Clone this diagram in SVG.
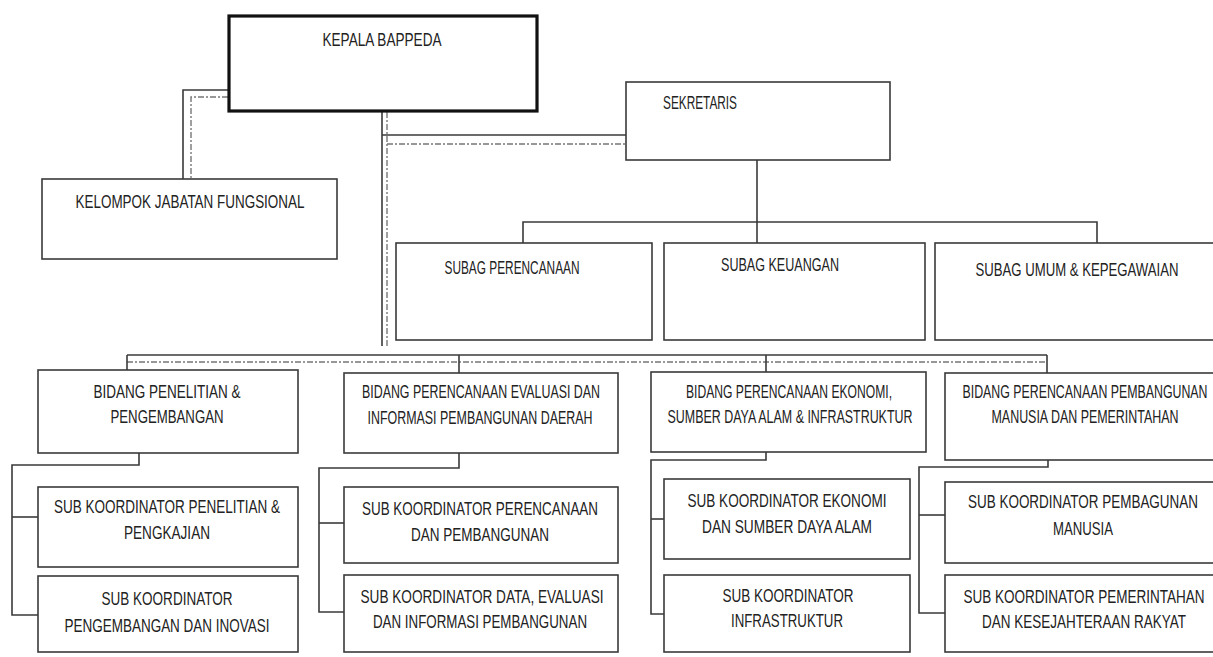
<svg xmlns="http://www.w3.org/2000/svg" width="1213" height="657" viewBox="0 0 1213 657">
<style>
.bx{fill:#fff;stroke:#3a3a3a;stroke-width:1.6}
.bxk{fill:#fff;stroke:#111;stroke-width:3.2}
.t{font-family:"Liberation Sans",Arial,sans-serif;font-size:17.5px;fill:#222;text-anchor:middle}
.c{fill:none;stroke:#3a3a3a;stroke-width:1.6}
.d{fill:none;stroke:#777;stroke-width:1.4;stroke-dasharray:6 2 2 2}
</style>
<rect width="1213" height="657" fill="#fff"/>
<g id="connectors">
<polyline class="c" points="229,90 183,90 183,179"/>
<polyline class="d" points="228,97 191,97 191,179"/>
<polyline class="c" points="382,111 382,346"/>
<line class="c" x1="382" y1="135" x2="626" y2="135"/>
<polyline class="d" points="387,112 387,346"/>
<polyline class="d" points="387,144 626,144"/>
<line class="c" x1="757" y1="160" x2="757" y2="243"/>
<polyline class="c" points="523,243 523,222 1097,222 1097,243"/>
<line class="c" x1="127" y1="355" x2="1047" y2="355"/>
<line class="d" x1="127" y1="362" x2="1047" y2="362"/>
<line class="c" x1="127" y1="355" x2="127" y2="371"/>
<line class="c" x1="459" y1="355" x2="459" y2="373"/>
<line class="c" x1="766" y1="355" x2="766" y2="372"/>
<line class="c" x1="1047" y1="355" x2="1047" y2="373"/>
<polyline class="c" points="139,453 139,465 12,465 12,615 38,615"/>
<line class="c" x1="12" y1="517" x2="38" y2="517"/>
<polyline class="c" points="459,453 459,468 319,468 319,612 344,612"/>
<line class="c" x1="319" y1="523" x2="344" y2="523"/>
<polyline class="c" points="766,452 766,460 651,460 651,614 664,614"/>
<line class="c" x1="651" y1="519" x2="664" y2="519"/>
<polyline class="c" points="1048,460 1048,467 919,467 919,613 945,613"/>
<line class="c" x1="919" y1="515" x2="945" y2="515"/>
</g>
<g id="kepala">
<rect class="bxk" x="229" y="16" width="308" height="95"/>
<text class="t" x="382" y="46" textLength="119" lengthAdjust="spacingAndGlyphs">KEPALA BAPPEDA</text>
</g>
<g id="sekretaris">
<rect class="bx" x="626" y="82" width="264" height="78"/>
<text class="t" x="700" y="109" textLength="74" lengthAdjust="spacingAndGlyphs">SEKRETARIS</text>
</g>
<g id="kelompok">
<rect class="bx" x="42" y="179" width="295" height="80"/>
<text class="t" x="190" y="208" textLength="229" lengthAdjust="spacingAndGlyphs">KELOMPOK JABATAN FUNGSIONAL</text>
</g>
<g id="subag-perencanaan">
<rect class="bx" x="396" y="243" width="256" height="97"/>
<text class="t" x="512" y="274" textLength="135" lengthAdjust="spacingAndGlyphs">SUBAG PERENCANAAN</text>
</g>
<g id="subag-keuangan">
<rect class="bx" x="664" y="243" width="261" height="97"/>
<text class="t" x="780" y="271" textLength="118" lengthAdjust="spacingAndGlyphs">SUBAG KEUANGAN</text>
</g>
<g id="subag-umum">
<rect class="bx" x="935" y="243" width="285" height="97"/>
<text class="t" x="1077" y="276" textLength="203" lengthAdjust="spacingAndGlyphs">SUBAG UMUM &amp; KEPEGAWAIAN</text>
</g>
<g id="bidang-1">
<rect class="bx" x="38" y="370" width="260" height="83"/>
<text class="t" x="167" y="398" textLength="147" lengthAdjust="spacingAndGlyphs">BIDANG PENELITIAN &amp;</text>
<text class="t" x="167" y="423" textLength="113" lengthAdjust="spacingAndGlyphs">PENGEMBANGAN</text>
</g>
<g id="bidang-2">
<rect class="bx" x="344" y="373" width="274" height="80"/>
<text class="t" x="481" y="398" textLength="238" lengthAdjust="spacingAndGlyphs">BIDANG PERENCANAAN EVALUASI DAN</text>
<text class="t" x="480" y="424" textLength="225" lengthAdjust="spacingAndGlyphs">INFORMASI PEMBANGUNAN DAERAH</text>
</g>
<g id="bidang-3">
<rect class="bx" x="651" y="372" width="275" height="80"/>
<text class="t" x="789" y="398" textLength="206" lengthAdjust="spacingAndGlyphs">BIDANG PERENCANAAN EKONOMI,</text>
<text class="t" x="790" y="423" textLength="245" lengthAdjust="spacingAndGlyphs">SUMBER DAYA ALAM &amp; INFRASTRUKTUR</text>
</g>
<g id="bidang-4">
<rect class="bx" x="945" y="373" width="275" height="87"/>
<text class="t" x="1085" y="398" textLength="245" lengthAdjust="spacingAndGlyphs">BIDANG PERENCANAAN PEMBANGUNAN</text>
<text class="t" x="1085" y="423" textLength="187" lengthAdjust="spacingAndGlyphs">MANUSIA DAN PEMERINTAHAN</text>
</g>
<g id="sub-1a">
<rect class="bx" x="38" y="487" width="260" height="80"/>
<text class="t" x="167" y="513" textLength="226" lengthAdjust="spacingAndGlyphs">SUB KOORDINATOR PENELITIAN &amp;</text>
<text class="t" x="167" y="539" textLength="86" lengthAdjust="spacingAndGlyphs">PENGKAJIAN</text>
</g>
<g id="sub-1b">
<rect class="bx" x="38" y="576" width="260" height="76"/>
<text class="t" x="167" y="605" textLength="131" lengthAdjust="spacingAndGlyphs">SUB KOORDINATOR</text>
<text class="t" x="167" y="632" textLength="205" lengthAdjust="spacingAndGlyphs">PENGEMBANGAN DAN INOVASI</text>
</g>
<g id="sub-2a">
<rect class="bx" x="344" y="487" width="274" height="76"/>
<text class="t" x="480" y="515" textLength="236" lengthAdjust="spacingAndGlyphs">SUB KOORDINATOR PERENCANAAN</text>
<text class="t" x="480" y="541" textLength="138" lengthAdjust="spacingAndGlyphs">DAN PEMBANGUNAN</text>
</g>
<g id="sub-2b">
<rect class="bx" x="344" y="575" width="274" height="77"/>
<text class="t" x="482" y="603" textLength="243" lengthAdjust="spacingAndGlyphs">SUB KOORDINATOR DATA, EVALUASI</text>
<text class="t" x="480" y="628" textLength="214" lengthAdjust="spacingAndGlyphs">DAN INFORMASI PEMBANGUNAN</text>
</g>
<g id="sub-3a">
<rect class="bx" x="664" y="479" width="246" height="80"/>
<text class="t" x="787" y="507" textLength="199" lengthAdjust="spacingAndGlyphs">SUB KOORDINATOR EKONOMI</text>
<text class="t" x="787" y="533" textLength="170" lengthAdjust="spacingAndGlyphs">DAN SUMBER DAYA ALAM</text>
</g>
<g id="sub-3b">
<rect class="bx" x="664" y="575" width="246" height="77"/>
<text class="t" x="788" y="602" textLength="131" lengthAdjust="spacingAndGlyphs">SUB KOORDINATOR</text>
<text class="t" x="787" y="627" textLength="112" lengthAdjust="spacingAndGlyphs">INFRASTRUKTUR</text>
</g>
<g id="sub-4a">
<rect class="bx" x="945" y="482" width="275" height="81"/>
<text class="t" x="1083" y="508" textLength="230" lengthAdjust="spacingAndGlyphs">SUB KOORDINATOR PEMBAGUNAN</text>
<text class="t" x="1083" y="535" textLength="60" lengthAdjust="spacingAndGlyphs">MANUSIA</text>
</g>
<g id="sub-4b">
<rect class="bx" x="945" y="575" width="275" height="77"/>
<text class="t" x="1084" y="603" textLength="241" lengthAdjust="spacingAndGlyphs">SUB KOORDINATOR PEMERINTAHAN</text>
<text class="t" x="1084" y="628" textLength="204" lengthAdjust="spacingAndGlyphs">DAN KESEJAHTERAAN RAKYAT</text>
</g>
</svg>
